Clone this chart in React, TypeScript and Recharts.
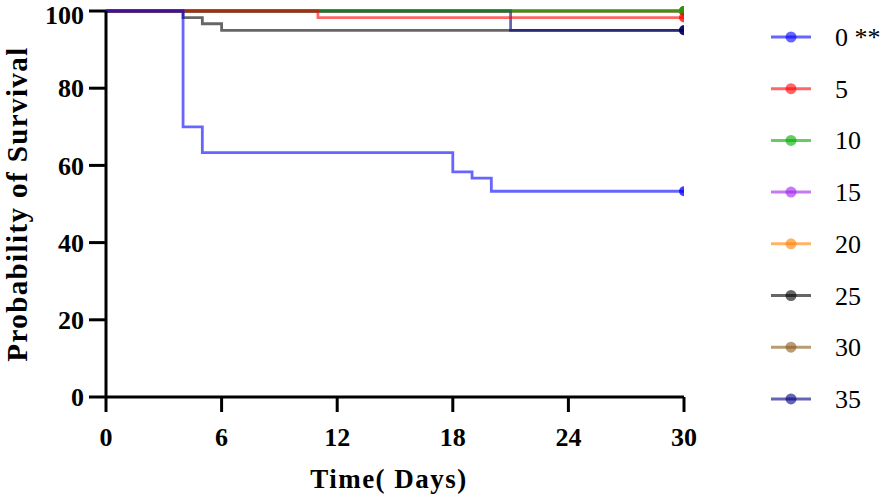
import React from 'react';
import { LineChart, Line, XAxis, YAxis } from 'recharts';

// ---- data ----
const groupNames = ['0 **', '5', '10', '15', '20', '25', '30', '35'];
const groupColors = ['#0000ff', '#ff0000', '#00aa00', '#a020f0', '#ff8000', '#000000', '#8b5a1a', '#000080'];

const days0 = [0, 4, 5, 18, 19, 20, 30];
const surv0 = [100, 70, 63.3, 58.3, 56.7, 53.3, 53.3];
const days5 = [0, 11, 30];
const surv5 = [100, 98.3, 98.3];
const days10 = [0, 30];
const surv10 = [100, 100];
const days15 = [0, 30];
const surv15 = [100, 100];
const days20 = [0, 30];
const surv20 = [100, 100];
const days25 = [0, 4, 5, 6, 30];
const surv25 = [100, 98.3, 96.7, 95, 95];
const days30 = [0, 30];
const surv30 = [100, 100];
const days35 = [0, 21, 30];
const surv35 = [100, 95, 95];

const xTicks = [0, 6, 12, 18, 24, 30];
const yTicks = [0, 20, 40, 60, 80, 100];

const zip = (d: number[], s: number[]) => d.map((day, i) => ({ day, value: s[i] }));

const seriesData = [
  zip(days0, surv0),
  zip(days5, surv5),
  zip(days10, surv10),
  zip(days15, surv15),
  zip(days20, surv20),
  zip(days25, surv25),
  zip(days30, surv30),
  zip(days35, surv35),
];

// draw order (bottom to top)
const drawOrder = [3, 4, 6, 5, 7, 2, 1, 0];

const serif = '"Liberation Serif", "Times New Roman", serif';

const endDot = (color: string, lastIndex: number) => (props: any) => {
  if (props.index === lastIndex) {
    return <circle key={`d-${props.index}`} cx={props.cx} cy={props.cy} r={5} fill={color} fillOpacity={0.75} />;
  }
  return <g key={`d-${props.index}`} />;
};

export default function App() {
  return (
    <div style={{ position: 'absolute', left: 0, top: 0, width: 886, height: 496, background: '#fff' }}>
      <LineChart width={886} height={496} margin={{ top: 11, right: 202, bottom: 0, left: 0 }}>
        <XAxis
          type="number"
          dataKey="day"
          domain={[0, 30]}
          ticks={xTicks}
          allowDataOverflow
          height={99}
          tickSize={15}
          tickMargin={16}
          axisLine={{ stroke: '#000', strokeWidth: 3 }}
          tickLine={{ stroke: '#000', strokeWidth: 3 }}
          tick={{ fill: '#000', fontSize: 26, fontWeight: 'bold', fontFamily: serif }}
          label={{
            value: 'Time( Days)',
            position: 'insideBottom',
            offset: 8,
            dx: -6,
            style: { fill: '#000', fontSize: 27, fontWeight: 'bold', fontFamily: serif, letterSpacing: 1.5 },
          }}
        />
        <YAxis
          type="number"
          domain={[0, 100]}
          ticks={yTicks}
          width={106}
          tickSize={17}
          tickMargin={5}
          axisLine={{ stroke: '#000', strokeWidth: 3 }}
          tickLine={{ stroke: '#000', strokeWidth: 3 }}
          tick={{ fill: '#000', fontSize: 26, fontWeight: 'bold', fontFamily: serif }}
          label={{
            value: 'Probability of Survival',
            angle: -90,
            position: 'insideLeft',
            offset: 17,
            style: { textAnchor: 'middle', fill: '#000', fontSize: 29, fontWeight: 'bold', fontFamily: serif, letterSpacing: 1.4 },
          }}
        />
        {drawOrder.map((gi) => (
          <Line
            key={groupNames[gi]}
            data={seriesData[gi]}
            dataKey="value"
            type="stepAfter"
            stroke={groupColors[gi]}
            strokeOpacity={0.6}
            strokeWidth={2.8}
            dot={endDot(groupColors[gi], seriesData[gi].length - 1)}
            activeDot={false}
            isAnimationActive={false}
          />
        ))}
      </LineChart>
      <svg
        width={146}
        height={440}
        style={{ position: 'absolute', left: 740, top: 0 }}
      >
        {groupNames.map((name, i) => {
          const y = 37 + i * 51.7;
          return (
            <g key={name}>
              <line x1={31} x2={71} y1={y} y2={y} stroke={groupColors[i]} strokeOpacity={0.6} strokeWidth={3} />
              <circle cx={51} cy={y} r={5.5} fill={groupColors[i]} fillOpacity={0.6} />
              <text x={95} y={y + 9} fontSize={26} fontFamily={serif} fill="#000">
                {name}
              </text>
            </g>
          );
        })}
      </svg>
    </div>
  );
}
